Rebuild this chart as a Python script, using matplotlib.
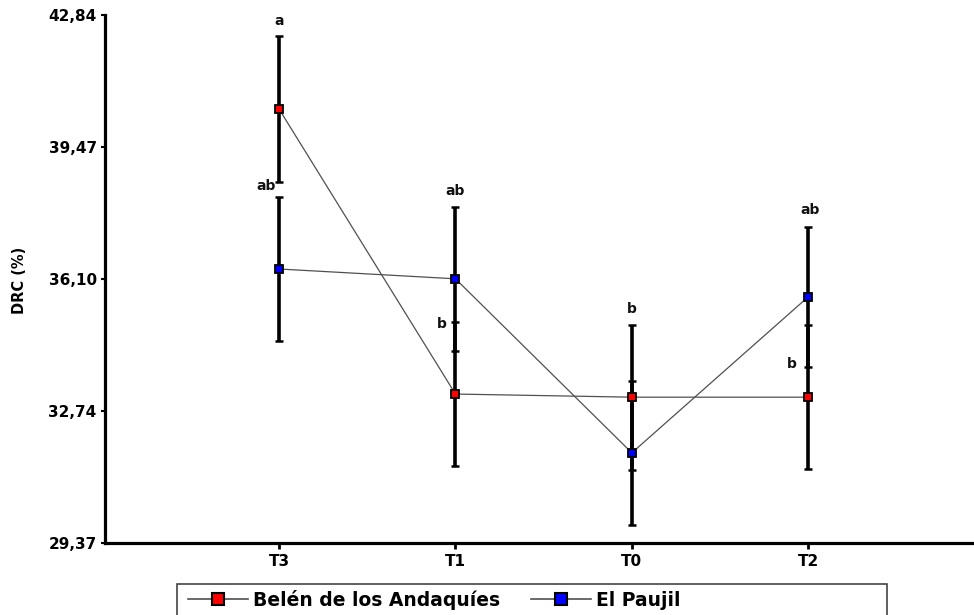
import matplotlib
matplotlib.use("Agg")
import matplotlib.pyplot as plt
from matplotlib.lines import Line2D
from matplotlib.patches import Rectangle

# data
groups = ['T3', 'T1', 'T0', 'T2']
belen = [40.44, 33.17, 33.09, 33.09]
belen_err = [1.86, 1.84, 1.85, 1.84]
paujil = [36.36, 36.11, 31.67, 35.65]
paujil_err = [1.84, 1.84, 1.84, 1.79]
yticks = [29.37, 32.74, 36.10, 39.47, 42.84]
ytick_labels = ['29,37', '32,74', '36,10', '39,47', '42,84']

# significance letters: (text, series, group index, cap 'top'/'bot', offset px)
letters = [
    ('a', 'belen', 0, 'top', (0, 15)),
    ('ab', 'paujil', 0, 'top', (-13, 11)),
    ('ab', 'paujil', 1, 'top', (0, 16)),
    ('b', 'belen', 1, 'top', (-14, -2)),
    ('b', 'belen', 2, 'top', (0, 16)),
    ('ab', 'paujil', 3, 'top', (2, 17)),
    ('b', 'paujil', 3, 'bot', (-16, 3)),
]

plt.rcParams['font.family'] = ['DejaVu Sans']
plt.rcParams['font.weight'] = 'bold'

fig = plt.figure(figsize=(9.74, 6.15), dpi=100)
ax = fig.add_axes([105/974, 1 - 543/615, 1 - 105/974, (543 - 15)/615])

x = list(range(1, len(groups) + 1))
series = {'belen': (belen, belen_err, 'red'), 'paujil': (paujil, paujil_err, 'blue')}

for key in ['belen', 'paujil']:
    vals, errs, col = series[key]
    ax.plot(x, vals, color='#505050', lw=0.9, zorder=1)
    ax.errorbar(x, vals, yerr=errs, fmt='none', ecolor='black', elinewidth=2.6,
                capsize=3, capthick=1.8, zorder=2)
    ax.plot(x, vals, ls='none', marker='s', ms=5.5, mfc=col, mec='black', mew=1.3, zorder=3)

for txt, key, i, cap, off in letters:
    vals, errs, col = series[key]
    yv = vals[i] + errs[i] if cap == 'top' else vals[i] - errs[i]
    ax.annotate(txt, (x[i], yv), xytext=off, textcoords='offset pixels',
                ha='center', va='center', fontsize=10, fontweight='bold', color='#111111')

ax.set_xlim(0.013, 4.94)
ax.set_ylim(29.37, 42.84)
ax.set_xticks(x)
ax.set_xticklabels(groups, fontsize=11, fontweight='bold')
ax.set_yticks(yticks)
ax.set_yticklabels(ytick_labels, fontsize=11, fontweight='bold')
ax.tick_params(axis='y', length=3, width=1.5, pad=3)
ax.tick_params(axis='x', length=4, width=2, pad=4)
for s in ['top', 'right']:
    ax.spines[s].set_visible(False)
for s in ['left', 'bottom']:
    ax.spines[s].set_linewidth(2.3)

fig.text(20/974, 1 - 280/615, 'DRC (%)', rotation=90, ha='center', va='center',
         fontsize=10.5, fontweight='bold')

# legend box (runs off the bottom edge like the reference)
fig.patches.append(Rectangle((177/974, -0.05), 710/974, 0.05 + 1 - 584/615,
                             transform=fig.transFigure, fill=False,
                             edgecolor='#444444', lw=1.2))
handles = [Line2D([], [], color='#505050', lw=1.2, marker='s', ms=8, mfc='red', mec='black', mew=1.5),
           Line2D([], [], color='#505050', lw=1.2, marker='s', ms=8, mfc='blue', mec='black', mew=1.5)]
fig.legend(handles, ['Belén de los Andaquíes', 'El Paujil'], loc='upper left',
           bbox_to_anchor=(188/974, 1 - 590/615), ncol=2, frameon=False,
           prop={'size': 13.5, 'weight': 'bold'}, handlelength=3.2, handletextpad=0.27,
           columnspacing=1.65, borderpad=0, borderaxespad=0)

fig.savefig('out.png', dpi=100)
